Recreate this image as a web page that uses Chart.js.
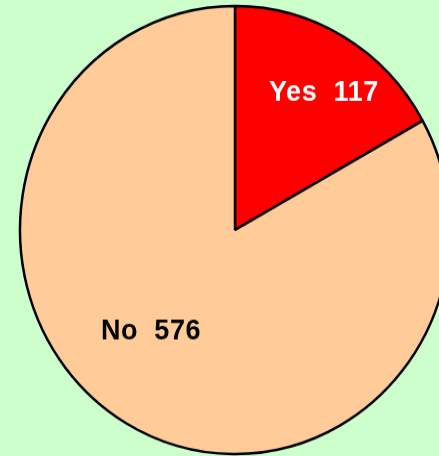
<!DOCTYPE html>
<html>
<head>
<meta charset="utf-8">
<script src="https://cdn.jsdelivr.net/npm/chart.js@4"></script>
<style>
    html, body {
        margin: 0;
        padding: 0;
        width: 439px;
        height: 456px;
        overflow: hidden;
        background: #CCFFCC;
    }
    #wrap {
        position: absolute;
        left: 0;
        top: 0;
        width: 470px;
        height: 460px;
        transform-origin: 50% 50%;
        transform: scaleY(1.042);
    }
</style>
</head>
<body>

<div id="wrap">
    <canvas id="pieChart"></canvas>
</div>

<script>

const labels = ["Yes", "No"];
const counts = [117, 576];
const colors = ["#FF0000", "#FFCC99"];
const textColors = ["#FFFFFF", "#000000"];

// small per-label nudges (angle in degrees, distance as part of radius)
const labelTurn = [3.6, 10.2];
const labelDist = [0.74, 0.60];

const sliceLabels = {
    id: "sliceLabels",
    afterDraw(chart) {
        const ctx = chart.ctx;
        const arcs = chart.getDatasetMeta(0).data;

        ctx.save();
        ctx.font = "bold 27px 'Liberation Sans', Arial, sans-serif";
        ctx.letterSpacing = "0.6px";
        ctx.textAlign = "center";
        ctx.textBaseline = "middle";

        arcs.forEach((arc, i) => {
            const p = arc.getProps(["x", "y", "startAngle", "endAngle", "outerRadius"], true);
            const mid = (p.startAngle + p.endAngle) / 2 + labelTurn[i] * Math.PI / 180;
            const r = p.outerRadius * labelDist[i];
            ctx.fillStyle = textColors[i];
            ctx.fillText(labels[i] + "  " + counts[i], p.x + Math.cos(mid) * r, p.y + Math.sin(mid) * r);
        });

        ctx.restore();
    }
};

new Chart(document.getElementById("pieChart"), {
    type: "pie",
    data: {
        labels: labels,
        datasets: [{
            data: counts,
            backgroundColor: colors,
            borderColor: "#000000",
            borderWidth: 2.5
        }]
    },
    options: {
        responsive: true,
        maintainAspectRatio: false,
        animation: false,
        radius: 215,
        layout: { padding: 0 },
        plugins: {
            legend: { display: false },
            tooltip: { enabled: false }
        }
    },
    plugins: [sliceLabels]
});

</script>
</body>
</html>
